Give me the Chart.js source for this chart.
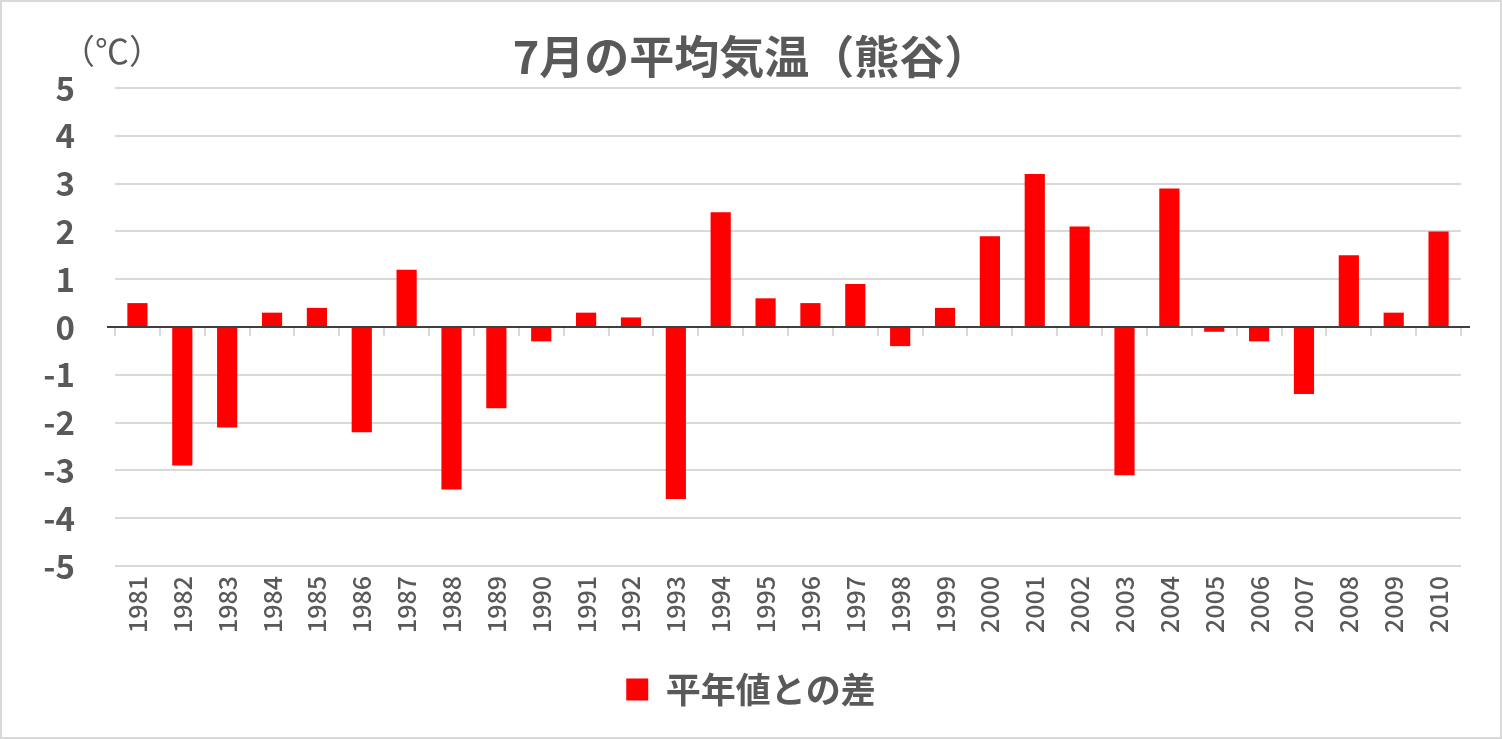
<!DOCTYPE html>
<html><head><meta charset="utf-8">
<script src="https://cdn.jsdelivr.net/npm/chart.js@4.4.1/dist/chart.umd.min.js"></script>
<style>html,body{margin:0;padding:0;background:#fff;overflow:hidden}canvas{display:block}</style>
</head><body>
<canvas id="c" width="1502" height="739"></canvas>
<script>
const years = ['1981','1982','1983','1984','1985','1986','1987','1988','1989','1990',
  '1991','1992','1993','1994','1995','1996','1997','1998','1999','2000',
  '2001','2002','2003','2004','2005','2006','2007','2008','2009','2010'];
const anomalies = [0.5,-2.9,-2.1,0.3,0.4,-2.2,1.2,-3.4,-1.7,-0.3,
  0.3,0.2,-3.6,2.4,0.6,0.5,0.9,-0.4,0.4,1.9,
  3.2,2.1,-3.1,2.9,-0.1,-0.3,-1.4,1.5,0.3,2.0];
const seriesLabel = '平年値との差';
const titleText = '7月の平均気温（熊谷）';
const unitText = '（℃）';
const yMin = -5, yMax = 5, yStep = 1;

const FONT = '"Noto Sans CJK JP", "Noto Sans", sans-serif';
const TEXT = '#595959';

const decor = {
  id: 'decor',
  beforeDraw(chart) {
    const ctx = chart.ctx;
    ctx.save();
    ctx.fillStyle = '#fff';
    ctx.fillRect(0, 0, chart.width, chart.height);
    ctx.strokeStyle = '#d9d9d9';
    ctx.lineWidth = 2;
    ctx.strokeRect(1, 1, chart.width - 2, chart.height - 2);
    ctx.restore();
  },
  afterDatasetsDraw(chart) {
    const ctx = chart.ctx;
    const xs = chart.scales.x, ys = chart.scales.y;
    const y0 = ys.getPixelForValue(0);
    const n = years.length;
    const w = (xs.right - xs.left) / n;
    ctx.save();
    ctx.strokeStyle = '#d9d9d9';
    ctx.lineWidth = 2;
    for (let i = 0; i <= n; i++) {
      const x = Math.round(xs.left + i * w);
      ctx.beginPath();
      ctx.moveTo(x, y0);
      ctx.lineTo(x, y0 + 9);
      ctx.stroke();
    }
    ctx.strokeStyle = '#000';
    ctx.lineWidth = 1.5;
    ctx.beginPath();
    ctx.moveTo(xs.left - 8, y0);
    ctx.lineTo(xs.right + 9, y0);
    ctx.stroke();
    // unit label
    ctx.fillStyle = TEXT;
    ctx.font = '34px ' + FONT;
    ctx.textAlign = 'center';
    ctx.textBaseline = 'middle';
    ctx.fillText(unitText, 112, 51);
    ctx.restore();
  }
};

new Chart(document.getElementById('c'), {
  type: 'bar',
  data: {
    labels: years,
    datasets: [{
      label: seriesLabel,
      data: anomalies,
      backgroundColor: '#ff0000',
      borderWidth: 0,
      barPercentage: 0.45,
      categoryPercentage: 1.0
    }]
  },
  options: {
    responsive: false,
    animation: false,
    devicePixelRatio: 1,
    layout: { padding: { top: 0, left: 0, right: 0, bottom: 22 } },
    plugins: {
      title: {
        display: true,
        text: titleText,
        color: TEXT,
        font: { family: FONT, size: 45, weight: 'bold' },
        padding: { top: 30, bottom: 4 }
      },
      legend: {
        display: true,
        position: 'bottom',
        labels: {
          color: TEXT,
          font: { family: FONT, size: 35, weight: 'bold' },
          boxWidth: 22,
          boxHeight: 22,
          padding: 10
        }
      },
      tooltip: { enabled: false }
    },
    scales: {
      x: {
        grid: { display: false, drawTicks: false },
        border: { display: false },
        ticks: {
          autoSkip: false, minRotation: 90, maxRotation: 90,
          color: TEXT, font: { family: FONT, size: 25, weight: '500' }, padding: 10
        },
        afterFit(s) { s.height = 96; }
      },
      y: {
        min: yMin, max: yMax,
        grid: {
          drawTicks: false,
          lineWidth: 2,
          color: (c) => (c.tick && c.tick.value === 0) ? 'rgba(0,0,0,0)' : '#d9d9d9'
        },
        border: { display: false },
        ticks: {
          stepSize: yStep, color: TEXT, padding: 40,
          font: { family: FONT, size: 33, weight: 'bold' }
        },
        afterFit(s) { s.width = 115; }
      },
      yRight: {
        position: 'right',
        display: true,
        grid: { display: false, drawTicks: false },
        border: { display: false },
        ticks: { display: false },
        afterFit(s) { s.width = 41; }
      }
    }
  },
  plugins: [decor]
});
</script>
</body></html>
